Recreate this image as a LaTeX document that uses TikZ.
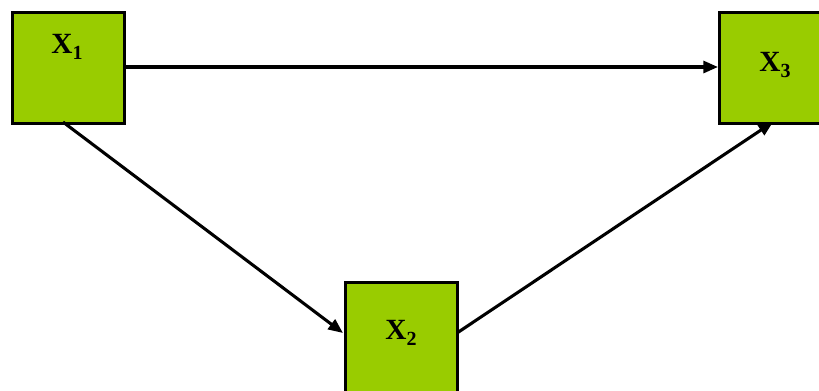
\documentclass[tikz,border=0pt]{standalone}
\usepackage{fontspec}
\setmainfont{Liberation Serif}
\usetikzlibrary{arrows.meta}
\definecolor{boxgreen}{HTML}{99CC00}
\newcommand{\lbl}[1]{X\raisebox{-0.22em}{\fontsize{15}{15}\selectfont\bfseries #1}}
\begin{document}
\begin{tikzpicture}[x=0.75pt,y=-0.75pt,
  gbox/.style={draw=black,fill=boxgreen,line width=2.3pt,minimum width=84pt,minimum height=83pt,inner sep=0pt,anchor=north west},
  lab/.style={font=\fontsize{22}{24}\selectfont\bfseries,anchor=base},
  conn/.style={line width=2.3pt,-{Triangle[length=11pt,width=9pt]}}]
\useasboundingbox (0,0) rectangle (819,390);
\node[gbox] (x1) at (11,11) {};
\node[gbox] (x3) at (718,11) {};
\node[gbox,minimum height=110pt] (x2) at (344,281) {};
\node[lab] (l1) at (67,53) {\lbl{1}};
\node[lab] (l3) at (775,71) {\lbl{3}};
\node[lab] (l2) at (401,339) {\lbl{2}};
\coordinate (a1) at (63,122);
\coordinate (a2) at (343,333);
\coordinate (b1) at (457,333);
\coordinate (b2) at (773,122);
\draw[conn] (x1.east |- 0,67) -- (x3.west |- 0,67);
\draw[conn] (a1) -- (a2);
\draw[conn] (b1) -- (b2);
\end{tikzpicture}
\end{document}
